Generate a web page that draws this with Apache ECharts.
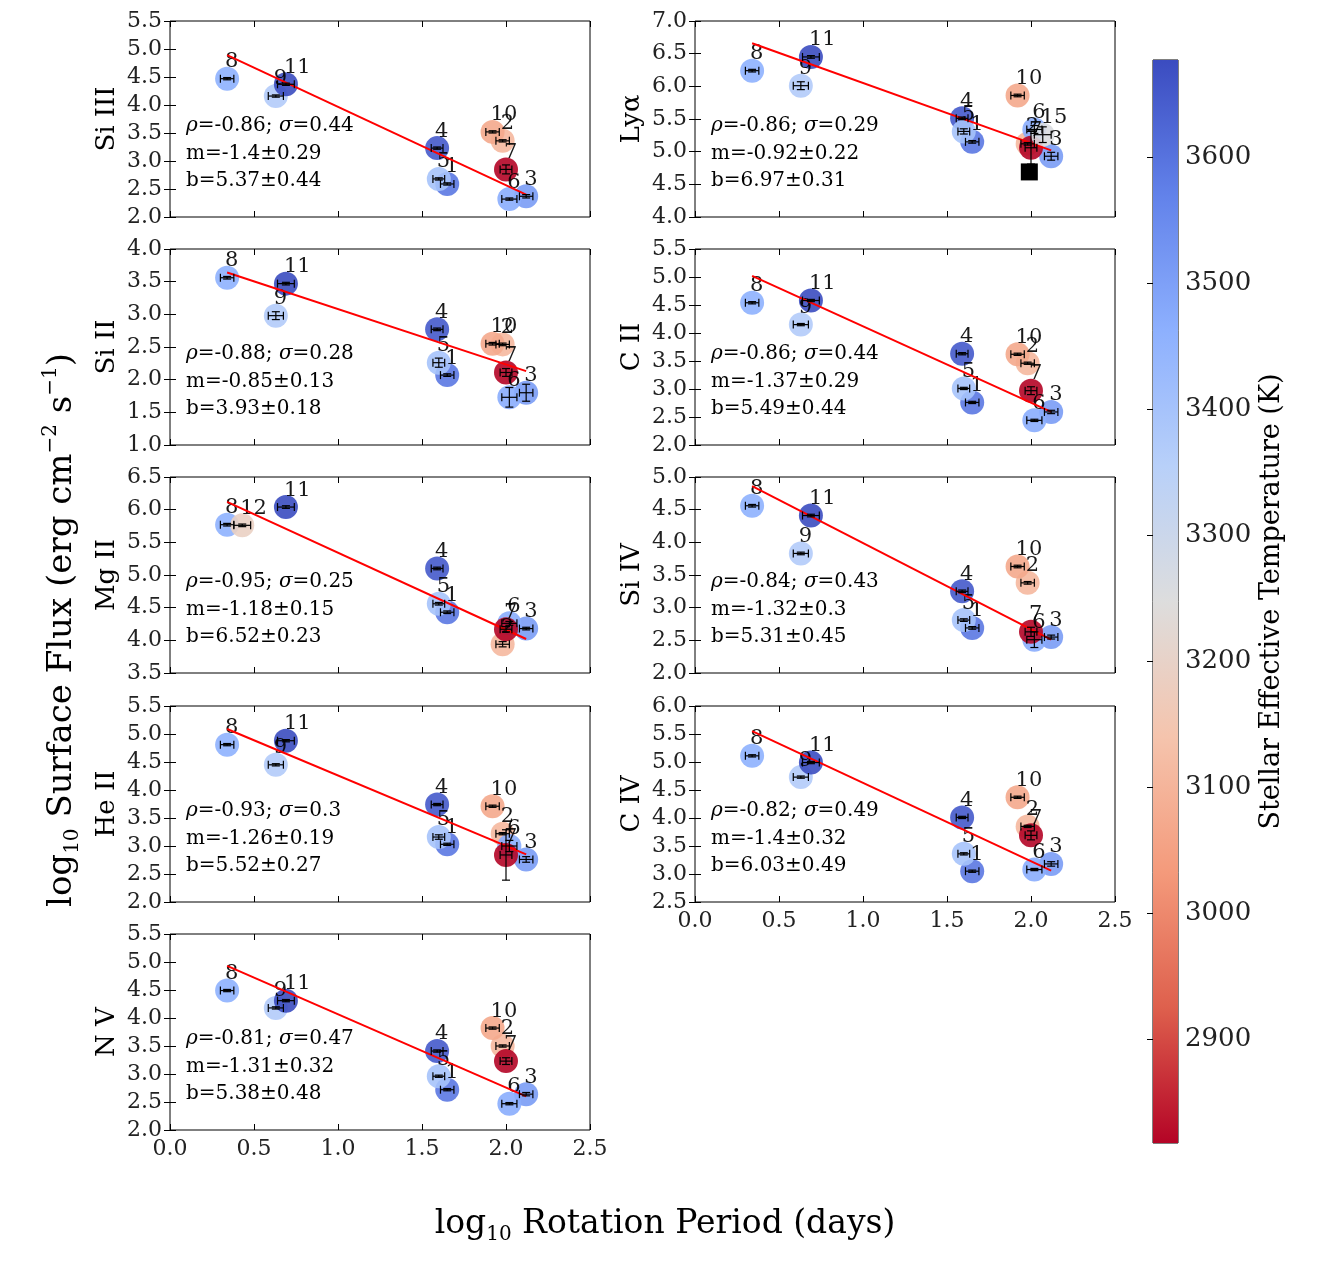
<!DOCTYPE html>
<html>
<head>
<meta charset="utf-8">
<script src="https://cdn.jsdelivr.net/npm/echarts@6/dist/echarts.min.js"></script>
<style>
html, body { margin: 0; background: #fff; }
#main { width: 1331px; height: 1261px; }
</style>
</head>
<body>
<div id="main"></div>
<script>
// stars (same order in every array below)
const starIds   = [1, 2, 3, 4, 5, 6, 7, 8, 9, 10, 11, 12, 15];
const logPeriod = [1.65, 1.98, 2.12, 1.59, 1.60, 2.02, 2.00, 0.34, 0.63, 1.92, 0.69, 0.43, 2.07];
const periodErr = [0.04, 0.04, 0.04, 0.035, 0.035, 0.045, 0.035, 0.04, 0.045, 0.04, 0.05, 0.05, 0.05];
const teff      = [3590, 3110, 3510, 3650, 3400, 3470, 2818, 3460, 3370, 3070, 3677, 3190, 3260];

// log10 surface flux per line
const fluxSiIII = [2.59, 3.36, 2.37, 3.23, 2.68, 2.32, 2.85, 4.47, 4.16, 3.52, 4.37, null, null];
const fluxLya   = [5.15, 5.12, 4.93, 5.51, 5.31, 5.34, 5.06, 6.24, 6.01, 5.86, 6.45, null, 5.26];
const fluxSiII  = [2.07, 2.54, 1.80, 2.77, 2.26, 1.73, 2.11, 3.56, 2.98, 2.55, 3.47, null, null];
const fluxCII   = [2.76, 3.46, 2.59, 3.63, 3.01, 2.44, 2.97, 4.54, 4.15, 3.62, 4.58, null, null];
const fluxMgII  = [4.43, 3.94, 4.18, 5.10, 4.56, 4.26, 4.17, 5.77, null, null, 6.04, 5.76, null];
const fluxSiIV  = [2.69, 3.38, 2.55, 3.25, 2.81, 2.51, 2.63, 4.56, 3.83, 3.63, 4.41, null, null];
const fluxHeII  = [3.03, 3.22, 2.76, 3.74, 3.16, 3.00, 2.84, 4.81, 4.45, 3.71, 4.88, null, null];
const fluxCIV   = [3.05, 3.85, 3.18, 4.01, 3.36, 3.08, 3.69, 5.11, 4.73, 4.37, 4.99, null, null];
const fluxNV    = [2.72, 3.50, 2.64, 3.41, 2.96, 2.47, 3.23, 4.49, 4.18, 3.82, 4.31, null, null];

// flux errors
const errSiIII = [0.02, 0.02, 0.03, 0.02, 0.02, 0.02, 0.08, 0.02, 0.02, 0.02, 0.02, null, null];
const errLya   = [0.02, 0.02, 0.06, 0.02, 0.04, 0.06, 0.25, 0.02, 0.06, 0.02, 0.02, null, 0.12];
const errSiII  = [0.02, 0.02, 0.13, 0.02, 0.07, 0.15, 0.06, 0.02, 0.06, 0.02, 0.02, null, null];
const errCII   = [0.02, 0.02, 0.03, 0.02, 0.02, 0.02, 0.07, 0.02, 0.02, 0.02, 0.02, null, null];
const errMgII  = [0.02, 0.04, 0.02, 0.02, 0.02, 0.03, 0.04, 0.02, null, null, 0.02, 0.02, null];
const errSiIV  = [0.02, 0.02, 0.03, 0.02, 0.02, 0.12, 0.07, 0.02, 0.02, 0.02, 0.02, null, null];
const errHeII  = [0.02, 0.02, 0.05, 0.02, 0.04, 0.10, 0.45, 0.02, 0.02, 0.02, 0.02, null, null];
const errCIV   = [0.02, 0.02, 0.04, 0.02, 0.02, 0.02, 0.08, 0.02, 0.02, 0.02, 0.02, null, null];
const errNV    = [0.02, 0.02, 0.03, 0.02, 0.02, 0.02, 0.06, 0.02, 0.02, 0.02, 0.02, null, null];

// fits: x ends shared, y ends per line
const fitX = [0.34, 2.12];
const fitSiIII = [4.89, 2.40];
const fitLya   = [6.66, 5.02];
const fitSiII  = [3.64, 2.13];
const fitCII   = [5.02, 2.59];
const fitMgII  = [6.12, 4.02];
const fitSiIV  = [4.86, 2.51];
const fitHeII  = [5.09, 2.85];
const fitCIV   = [5.55, 3.06];
const fitNV    = [4.93, 2.60];

// stats: rho, sigma, m, m err, b, b err
const statSiIII = [-0.86, 0.44, -1.4, 0.29, 5.37, 0.44];
const statLya   = [-0.86, 0.29, -0.92, 0.22, 6.97, 0.31];
const statSiII  = [-0.88, 0.28, -0.85, 0.13, 3.93, 0.18];
const statCII   = [-0.86, 0.44, -1.37, 0.29, 5.49, 0.44];
const statMgII  = [-0.95, 0.25, -1.18, 0.15, 6.52, 0.23];
const statSiIV  = [-0.84, 0.43, -1.32, 0.3, 5.31, 0.45];
const statHeII  = [-0.93, 0.3, -1.26, 0.19, 5.52, 0.27];
const statCIV   = [-0.82, 0.49, -1.4, 0.32, 6.03, 0.49];
const statNV    = [-0.81, 0.47, -1.31, 0.32, 5.38, 0.48];

// y ranges
const yRanges = {
  'Si III': [2.0, 5.5], 'Lyα': [4.0, 7.0], 'Si II': [1.0, 4.0], 'C II': [2.0, 5.5],
  'Mg II': [3.5, 6.5], 'Si IV': [2.0, 5.0], 'He II': [2.0, 5.5], 'C IV': [2.5, 6.0], 'N V': [2.0, 5.5]
};

// extra Lyα point (black square)
const lyaExtra = [[1.99, 4.69]];

const tempTicks = [2900, 3000, 3100, 3200, 3300, 3400, 3500, 3600];
const tempRange = [2818, 3677];
// matplotlib coolwarm, low -> high
const coolwarm = ['#3b4cc0', '#6282ea', '#8db0fe', '#b8d0f9', '#dddddd', '#f5c4ad', '#f49a7b', '#de604d', '#b40426'];

const panels = [
  {name: 'Si III', flux: fluxSiIII, err: errSiIII, fit: fitSiIII, stat: statSiIII, col: 0, row: 0},
  {name: 'Lyα',   flux: fluxLya,   err: errLya,   fit: fitLya,   stat: statLya,   col: 1, row: 0},
  {name: 'Si II',  flux: fluxSiII,  err: errSiII,  fit: fitSiII,  stat: statSiII,  col: 0, row: 1},
  {name: 'C II',   flux: fluxCII,   err: errCII,   fit: fitCII,   stat: statCII,   col: 1, row: 1},
  {name: 'Mg II',  flux: fluxMgII,  err: errMgII,  fit: fitMgII,  stat: statMgII,  col: 0, row: 2},
  {name: 'Si IV',  flux: fluxSiIV,  err: errSiIV,  fit: fitSiIV,  stat: statSiIV,  col: 1, row: 2},
  {name: 'He II',  flux: fluxHeII,  err: errHeII,  fit: fitHeII,  stat: statHeII,  col: 0, row: 3},
  {name: 'C IV',   flux: fluxCIV,   err: errCIV,   fit: fitCIV,   stat: statCIV,   col: 1, row: 3},
  {name: 'N V',    flux: fluxNV,    err: errNV,    fit: fitNV,    stat: statNV,    col: 0, row: 4}
];

const FONT = 'DejaVu Serif';
const colLeft = [170, 695];
const rowTop = [21, 249, 477, 706, 934];
const gw = 420, gh = 196;

function renderErr(params, api) {
  const x = api.value(0), y = api.value(1), ex = api.value(2), ey = api.value(3);
  const l = api.coord([x - ex, y]), r = api.coord([x + ex, y]);
  const t = api.coord([x, y + ey]), b = api.coord([x, y - ey]);
  const cap = 4;
  const style = {stroke: '#000', lineWidth: 1.2};
  return {type: 'group', children: [
    {type: 'line', shape: {x1: l[0], y1: l[1], x2: r[0], y2: r[1]}, style},
    {type: 'line', shape: {x1: l[0], y1: l[1] - cap, x2: l[0], y2: l[1] + cap}, style},
    {type: 'line', shape: {x1: r[0], y1: r[1] - cap, x2: r[0], y2: r[1] + cap}, style},
    {type: 'line', shape: {x1: t[0], y1: t[1], x2: b[0], y2: b[1]}, style},
    {type: 'line', shape: {x1: t[0] - cap, y1: t[1], x2: t[0] + cap, y2: t[1]}, style},
    {type: 'line', shape: {x1: b[0] - cap, y1: b[1], x2: b[0] + cap, y2: b[1]}, style}
  ]};
}

const grids = [], xAxes = [], yAxes = [], series = [], graphics = [];
const scatterIdx = [];
const tickStyle = {show: true, inside: true, length: 6, lineStyle: {color: '#000', width: 1}};

panels.forEach((p, i) => {
  const left = colLeft[p.col], top = rowTop[p.row];
  grids.push({left, top, width: gw, height: gh, show: true, borderColor: '#000', borderWidth: 1, backgroundColor: 'transparent'});
  const showX = (p.name === 'N V' || p.name === 'C IV');
  xAxes.push({
    gridIndex: i, type: 'value', min: 0, max: 2.5, interval: 0.5, position: 'bottom',
    axisLine: {show: false}, splitLine: {show: false}, axisTick: tickStyle,
    axisLabel: {show: showX, margin: 8, color: '#222', fontFamily: FONT, fontSize: 22, formatter: v => v.toFixed(1)}
  });
  xAxes.push({
    gridIndex: i, type: 'value', min: 0, max: 2.5, interval: 0.5, position: 'top',
    axisLine: {show: false}, splitLine: {show: false}, axisTick: tickStyle, axisLabel: {show: false}
  });
  const yr = yRanges[p.name];
  yAxes.push({
    gridIndex: i, type: 'value', min: yr[0], max: yr[1], interval: 0.5, position: 'left',
    axisLine: {show: false}, splitLine: {show: false}, axisTick: tickStyle,
    axisLabel: {margin: 8, color: '#222', fontFamily: FONT, fontSize: 22, formatter: v => v.toFixed(1)},
    name: p.name, nameLocation: 'middle', nameGap: 50,
    nameTextStyle: {color: '#000', fontFamily: FONT, fontSize: 26}
  });
  yAxes.push({
    gridIndex: i, type: 'value', min: yr[0], max: yr[1], interval: 0.5, position: 'right',
    axisLine: {show: false}, splitLine: {show: false}, axisTick: tickStyle, axisLabel: {show: false}
  });

  const pts = [], errs = [];
  starIds.forEach((id, k) => {
    if (p.flux[k] == null) return;
    pts.push([logPeriod[k], p.flux[k], teff[k], id]);
    errs.push([logPeriod[k], p.flux[k], periodErr[k], p.err[k]]);
  });

  scatterIdx.push(series.length);
  series.push({
    type: 'scatter', xAxisIndex: 2 * i, yAxisIndex: 2 * i, data: pts, z: 2,
    symbolSize: 24, itemStyle: {opacity: 0.9},
    label: {
      show: true, position: [10, -5], align: 'left', verticalAlign: 'middle',
      formatter: q => String(q.value[3]), color: '#000', fontFamily: FONT, fontSize: 21
    },
    emphasis: {disabled: true}, silent: true
  });
  series.push({
    type: 'line', xAxisIndex: 2 * i, yAxisIndex: 2 * i, z: 3,
    data: [[fitX[0], p.fit[0]], [fitX[1], p.fit[1]]],
    symbol: 'none', lineStyle: {color: '#ff0000', width: 2}, silent: true
  });
  series.push({
    type: 'custom', xAxisIndex: 2 * i, yAxisIndex: 2 * i, z: 4,
    data: errs, encode: {x: 0, y: 1}, renderItem: renderErr, silent: true
  });
  if (p.name === 'Lyα') {
    series.push({
      type: 'scatter', xAxisIndex: 2 * i, yAxisIndex: 2 * i, z: 5, data: lyaExtra,
      symbol: 'rect', symbolSize: 17, itemStyle: {color: '#000', opacity: 1}, silent: true
    });
  }

  const s = p.stat;
  graphics.push({
    type: 'text', left: left + 16, top: top + 95, silent: true,
    style: {
      text: `{i|ρ}{n|=${s[0]}; }{i|σ}{n|=${s[1]}}\n{n|m=${s[2]}±${s[3]}}\n{n|b=${s[4]}±${s[5]}}`,
      rich: {
        n: {fontFamily: FONT, fontSize: 20, lineHeight: 27.5, fill: '#000'},
        i: {fontFamily: FONT, fontStyle: 'italic', fontSize: 20, lineHeight: 27.5, fill: '#000'}
      }
    }
  });
});

// colorbar
const cbIndex = panels.length;
grids.push({left: 1153, top: 60, width: 25, height: 1083, show: true, borderColor: '#000', borderWidth: 1, backgroundColor: 'transparent'});
xAxes.push({gridIndex: cbIndex, type: 'value', min: 0, max: 1, show: false});
yAxes.push({
  gridIndex: cbIndex, type: 'value', min: tempRange[0], max: tempRange[1], position: 'right',
  axisLine: {show: false}, splitLine: {show: false},
  axisTick: {show: true, inside: true, length: 6, lineStyle: {color: '#000'}, customValues: tempTicks},
  axisLabel: {margin: 7, color: '#222', fontFamily: FONT, fontSize: 26, customValues: tempTicks, formatter: v => String(v)},
  name: 'Stellar Effective Temperature (K)', nameLocation: 'middle', nameGap: 80, nameRotate: 90,
  nameTextStyle: {color: '#000', fontFamily: FONT, fontSize: 27}
});
const gradStops = coolwarm.map((c, k) => ({offset: k / (coolwarm.length - 1), color: c}));
series.push({
  type: 'custom', xAxisIndex: 2 * cbIndex, yAxisIndex: 2 * cbIndex, silent: true,
  data: [[0, tempRange[1], 1, tempRange[0]]],
  renderItem: (params, api) => {
    const a = api.coord([api.value(0), api.value(1)]);
    const b = api.coord([api.value(2), api.value(3)]);
    return {
      type: 'rect', shape: {x: a[0], y: a[1], width: b[0] - a[0], height: b[1] - a[1]},
      style: {fill: new echarts.graphic.LinearGradient(0, 0, 0, 1, gradStops)}
    };
  }
});

// big axis titles
graphics.push({
  type: 'text', x: 62, y: 630, rotation: Math.PI / 2, silent: true,
  style: {
    text: '{n|log}{sub|10}{n| Surface Flux (erg cm}{sup|−2}{n| s}{sup|−1}{n|)}',
    align: 'center', verticalAlign: 'middle',
    rich: {
      n: {fontFamily: FONT, fontSize: 34, lineHeight: 42, fill: '#000'},
      sub: {fontFamily: FONT, fontSize: 20, lineHeight: 20, verticalAlign: 'bottom', fill: '#000'},
      sup: {fontFamily: FONT, fontSize: 20, lineHeight: 20, verticalAlign: 'top', fill: '#000'}
    }
  }
});
graphics.push({
  type: 'text', x: 665, y: 1224, silent: true,
  style: {
    text: '{n|log}{sub|10}{n| Rotation Period (days)}',
    align: 'center', verticalAlign: 'middle',
    rich: {
      n: {fontFamily: FONT, fontSize: 33, lineHeight: 42, fill: '#000'},
      sub: {fontFamily: FONT, fontSize: 20, lineHeight: 20, verticalAlign: 'bottom', fill: '#000'}
    }
  }
});

const chart = echarts.init(document.getElementById('main'), null, {renderer: 'canvas'});
chart.setOption({
  animation: false,
  backgroundColor: '#fff',
  grid: grids,
  xAxis: xAxes,
  yAxis: yAxes,
  visualMap: {
    show: false, type: 'continuous', min: tempRange[0], max: tempRange[1], dimension: 2,
    seriesIndex: scatterIdx, inRange: {color: coolwarm.slice().reverse()}
  },
  graphic: graphics,
  series
});
</script>
</body>
</html>
